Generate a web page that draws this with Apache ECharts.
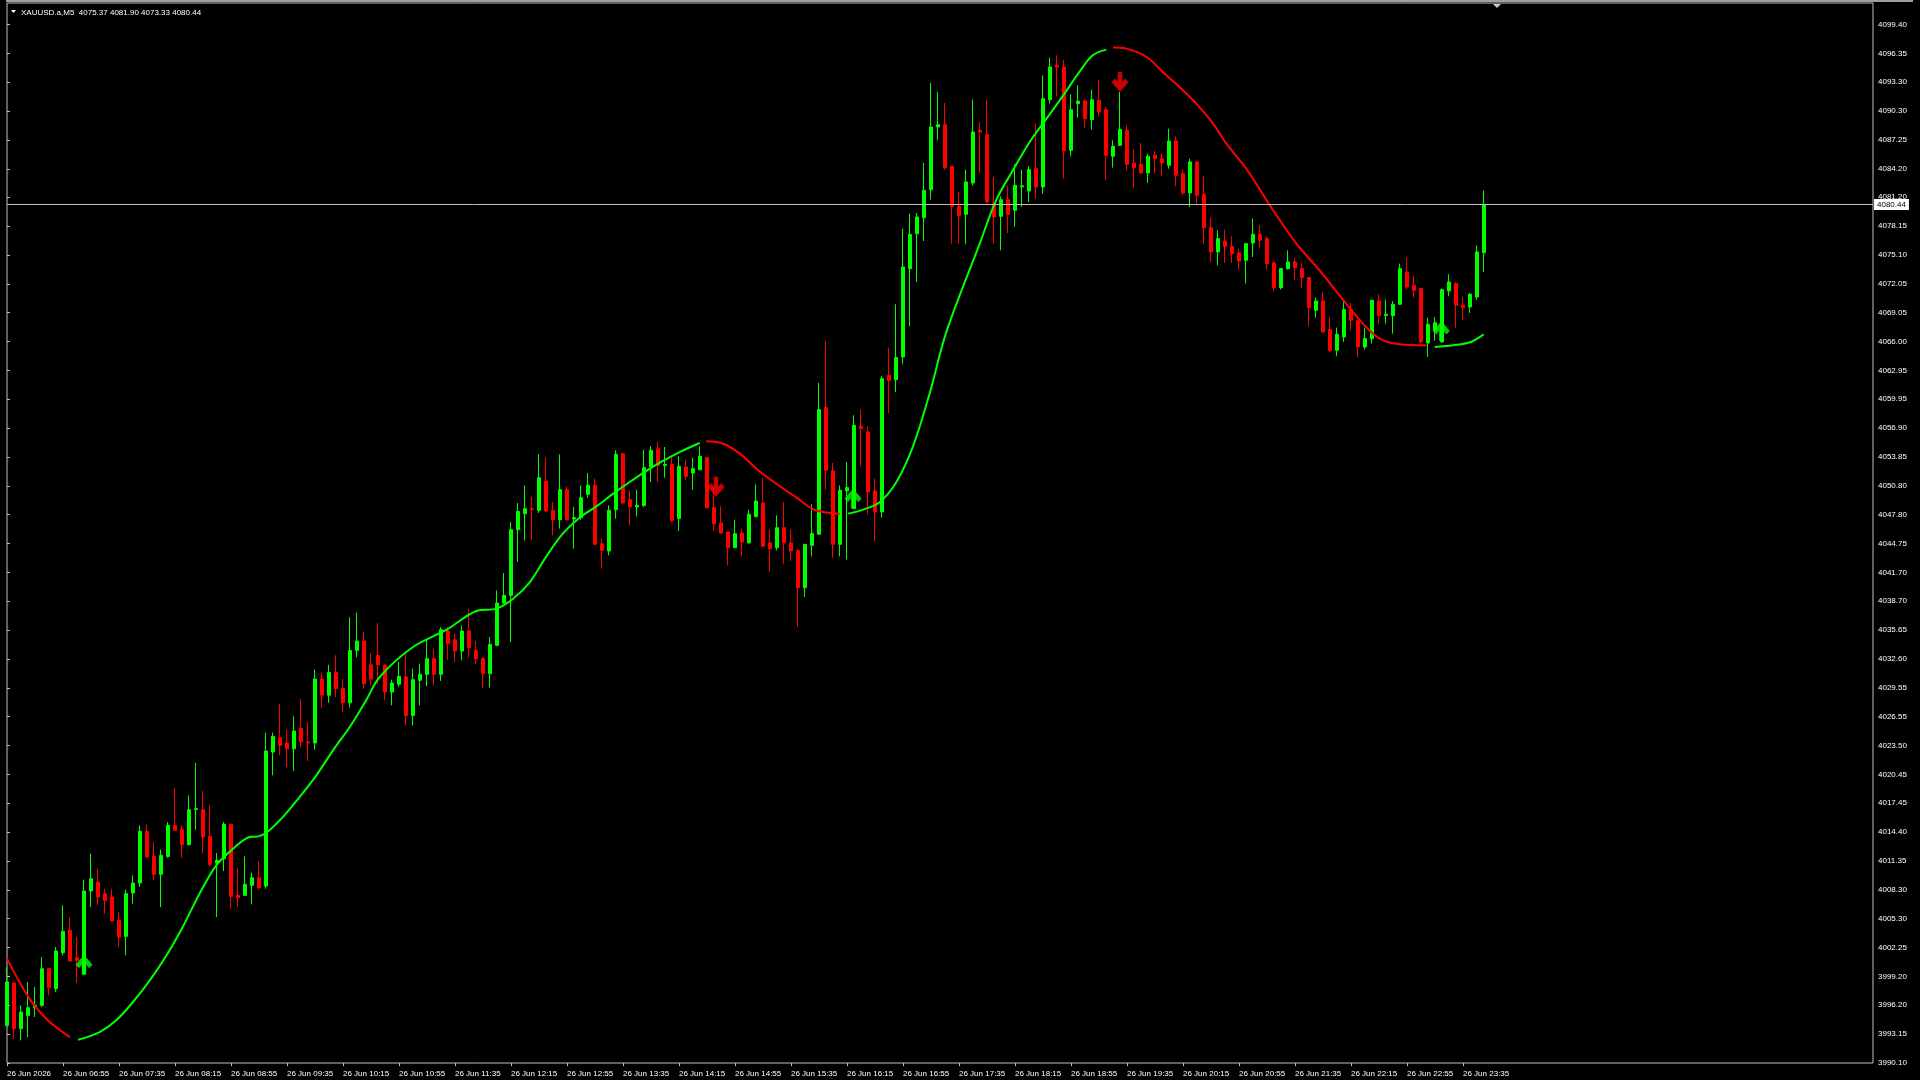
<!DOCTYPE html>
<html><head><meta charset="utf-8">
<script src="https://cdn.jsdelivr.net/npm/echarts@6/dist/echarts.min.js"></script>
<style>html,body{margin:0;padding:0;background:#000;}#c{width:1920px;height:1080px;}</style>
</head><body><div id="c"></div><script>
// ---------------- data ----------------
const symbolName = 'XAUUSD.a,M5';
const headerValues = ['4075.37', '4081.90', '4073.33', '4080.44'];
const lastPrice = 4080.44;
const timeLabels = ['26 Jun 2026','26 Jun 06:55','26 Jun 07:35','26 Jun 08:15','26 Jun 08:55','26 Jun 09:35','26 Jun 10:15','26 Jun 10:55','26 Jun 11:35','26 Jun 12:15','26 Jun 12:55','26 Jun 13:35','26 Jun 14:15','26 Jun 14:55','26 Jun 15:35','26 Jun 16:15','26 Jun 16:55','26 Jun 17:35','26 Jun 18:15','26 Jun 18:55','26 Jun 19:35','26 Jun 20:15','26 Jun 20:55','26 Jun 21:35','26 Jun 22:15','26 Jun 22:55','26 Jun 23:35'];
const barsPerLabel = 8;
const priceTicks = [4099.40,4096.35,4093.30,4090.30,4087.25,4084.20,4081.20,4078.15,4075.10,4072.05,4069.05,4066.00,4062.95,4059.95,4056.90,4053.85,4050.80,4047.80,4044.75,4041.70,4038.70,4035.65,4032.60,4029.55,4026.55,4023.50,4020.45,4017.45,4014.40,4011.35,4008.30,4005.30,4002.25,3999.20,3996.20,3993.15,3990.10];
// [open, high, low, close] per 5-minute bar
const ohlc = [
[3994.06,4000.20,3993.90,3998.62],[3998.52,3998.60,3992.66,3993.71],[3993.71,3996.17,3992.48,3995.46],[3995.11,3998.62,3992.83,3995.92],
[3995.92,3998.10,3994.94,3996.17],[3996.17,4001.25,3995.99,4000.02],[4000.02,4000.10,3997.22,3998.02],[3997.92,4002.30,3997.57,4001.88],
[4001.71,4006.69,4001.43,4003.95],[4004.06,4005.39,4000.83,4000.83],[4001.18,4003.36,3998.52,4000.90],[3999.50,4009.39,3999.50,4008.20],
[4008.20,4012.13,4006.51,4009.49],[4009.14,4010.55,4006.69,4007.57],[4007.92,4008.44,4005.81,4007.21],[4007.57,4008.44,4005.04,4005.04],
[4005.11,4005.99,4002.30,4003.36],[4003.43,4008.34,4001.43,4007.92],[4007.99,4009.85,4006.86,4009.04],[4009.04,4015.11,4008.62,4014.48],
[4014.48,4015.21,4011.77,4011.77],[4011.84,4013.35,4009.32,4009.95],[4009.95,4012.55,4006.51,4011.95],[4011.84,4015.46,4011.70,4015.11],
[4015.11,4019.07,4014.58,4014.58],[4014.65,4015.11,4011.70,4013.07],[4013.07,4018.26,4013.00,4016.76],[4016.76,4021.67,4014.65,4016.86],
[4016.76,4018.72,4012.20,4013.88],[4013.95,4017.21,4010.79,4011.00],[4011.14,4012.20,4005.46,4011.42],[4011.60,4015.46,4010.30,4015.21],
[4015.21,4015.30,4006.34,4007.64],[4007.74,4010.65,4006.51,4007.50],[4007.74,4011.84,4007.70,4008.90],[4008.79,4010.13,4006.79,4009.60],
[4009.60,4011.35,4008.34,4008.55],[4008.72,4024.86,4008.44,4022.93],[4022.82,4024.86,4020.37,4024.47],[4024.33,4027.84,4022.47,4023.52],
[4023.77,4025.17,4021.24,4023.17],[4023.17,4026.58,4020.82,4025.03],[4025.31,4028.40,4023.35,4023.88],[4023.88,4025.98,4021.88,4023.77],
[4023.77,4031.50,4023.07,4030.50],[4030.50,4031.20,4027.50,4028.80],[4028.80,4032.00,4028.00,4031.20],[4031.20,4033.00,4028.60,4029.50],
[4029.50,4030.50,4027.00,4028.00],[4028.00,4037.00,4027.50,4033.50],[4033.50,4037.50,4032.80,4034.50],[4034.50,4035.50,4029.50,4030.00],
[4032.00,4033.20,4029.80,4030.50],[4033.00,4036.40,4030.00,4032.00],
[4031.95,4032.10,4028.26,4029.14],[4029.14,4030.44,4027.74,4030.09],[4029.95,4032.30,4029.67,4030.79],[4030.72,4033.17,4025.63,4026.68],
[4026.68,4031.59,4025.63,4030.44],[4030.37,4032.12,4027.74,4031.00],[4031.00,4034.65,4029.74,4032.65],[4032.65,4033.70,4029.84,4031.00],
[4031.00,4035.98,4030.30,4035.70],[4035.56,4035.98,4032.54,4034.22],[4034.65,4035.28,4032.30,4033.45],[4033.45,4036.15,4032.47,4035.56],
[4035.56,4037.91,4032.75,4033.80],[4033.52,4034.51,4032.12,4032.65],[4032.65,4032.82,4029.60,4031.07],[4031.07,4034.93,4029.60,4034.15],
[4034.05,4039.84,4033.94,4038.50],[4038.50,4041.66,4038.43,4039.31],[4039.31,4047.03,4034.40,4046.22],[4046.22,4049.03,4042.82,4048.15],
[4047.90,4050.89,4045.10,4048.43],[4048.43,4049.66,4045.10,4048.33],[4048.26,4054.15,4047.98,4051.69],[4051.31,4053.80,4048.08,4048.18],
[4048.26,4049.13,4045.62,4047.27],[4047.27,4054.15,4046.33,4050.43],[4050.43,4050.78,4047.20,4047.27],[4047.34,4048.61,4044.22,4047.48],
[4047.48,4050.89,4047.27,4049.59],[4049.94,4052.18,4049.59,4050.89],[4050.89,4051.59,4044.60,4044.68],[4044.75,4045.27,4042.12,4044.05],
[4043.98,4048.78,4043.52,4048.26],[4048.33,4054.57,4047.38,4054.15],[4054.22,4054.30,4049.00,4049.03],[4049.38,4050.36,4046.68,4048.61],
[4048.61,4050.43,4047.62,4048.78],[4048.78,4054.64,4048.61,4052.74],[4052.88,4055.00,4051.24,4054.57],[4054.74,4055.45,4051.24,4052.99],
[4052.99,4054.92,4051.69,4053.10],[4053.10,4054.04,4047.03,4047.20],[4047.38,4053.94,4046.08,4052.88],[4052.81,4053.59,4051.41,4051.83],
[4052.18,4053.80,4050.43,4052.64],[4052.53,4054.99,4052.46,4053.94],[4053.80,4053.90,4048.43,4048.54],[4048.54,4050.64,4046.08,4046.85],
[4046.92,4048.68,4045.80,4045.87],[4045.98,4046.00,4042.47,4044.33],[4044.33,4047.27,4044.30,4045.80],[4045.87,4046.33,4043.41,4044.92],
[4044.82,4048.33,4044.80,4047.83],[4047.62,4050.99,4047.48,4049.24],[4049.03,4051.69,4044.40,4044.47],[4044.82,4046.22,4041.77,4044.22],
[4044.33,4047.73,4044.05,4046.43],[4046.44,4049.14,4042.65,4044.83],[4044.83,4046.23,4042.93,4043.98],[4044.05,4044.10,4035.99,4040.12],
[4040.12,4044.70,4039.14,4044.68],[4044.58,4048.89,4043.42,4045.81],[4045.74,4061.66,4045.70,4058.86],[4059.07,4066.08,4050.44,4052.47],
[4052.40,4053.24,4043.28,4044.68],[4044.68,4050.89,4043.42,4050.37],[4050.30,4053.35,4043.07,4050.65],[4048.44,4058.26,4048.44,4057.21],
[4057.10,4058.86,4052.89,4056.86],[4056.51,4057.10,4047.84,4050.19],[4050.30,4051.59,4045.04,4048.09],[4048.09,4062.36,4047.49,4062.12],
[4062.47,4065.38,4058.50,4061.94],[4062.01,4069.94,4060.71,4064.33],[4064.40,4077.90,4063.63,4073.87],[4073.69,4079.48,4067.62,4077.30],
[4077.37,4079.55,4072.29,4079.13],[4079.06,4084.81,4076.60,4081.93],[4082.00,4093.23,4080.95,4088.60],[4088.60,4092.28,4087.20,4088.84],
[4088.84,4091.12,4084.11,4084.32],[4084.46,4084.50,4076.32,4080.25],[4080.25,4081.76,4076.32,4079.30],[4079.41,4084.11,4076.25,4082.81],
[4082.71,4091.47,4082.46,4088.07],[4088.25,4089.12,4083.76,4088.07],[4087.83,4091.47,4080.53,4080.71],[4080.60,4083.34,4076.32,4079.13],
[4079.20,4081.30,4075.62,4080.95],[4080.95,4082.46,4077.44,4079.41],[4079.83,4084.67,4078.08,4082.46],[4082.30,4084.11,4080.18,4082.40],
[4081.86,4084.46,4080.71,4084.11],[4084.21,4088.95,4081.06,4082.28],[4082.28,4094.03,4081.58,4091.58],[4091.47,4095.89,4091.05,4094.91],
[4095.09,4096.14,4091.82,4094.91],[4094.91,4095.68,4083.16,4086.07],[4086.14,4092.04,4085.51,4090.42],[4091.05,4092.98,4089.58,4091.33],
[4091.33,4091.47,4088.53,4089.47],[4089.37,4092.53,4088.32,4091.47],[4091.40,4093.51,4089.72,4090.18],[4090.42,4090.70,4082.99,4085.62],
[4085.51,4087.20,4084.32,4086.56],[4086.67,4092.28,4086.60,4088.35],[4088.25,4088.77,4084.04,4084.67],[4084.81,4086.21,4082.21,4084.32],
[4084.67,4086.91,4083.70,4083.76],[4083.76,4085.72,4082.71,4085.51],[4085.62,4086.07,4083.69,4085.27],[4085.27,4085.86,4083.51,4084.81],
[4084.56,4088.42,4084.21,4087.12],[4087.12,4087.61,4082.36,4083.51],[4083.69,4084.11,4081.41,4081.65],[4081.65,4085.27,4080.18,4084.92],
[4084.92,4085.00,4080.53,4081.41],[4081.51,4083.41,4076.25,4078.00],[4078.00,4079.06,4074.39,4075.45],[4075.45,4077.72,4074.04,4076.85],
[4076.60,4077.79,4074.29,4076.04],[4076.04,4077.09,4074.29,4075.27],[4075.34,4075.80,4073.59,4074.50],[4074.57,4076.39,4072.12,4076.32],
[4076.39,4078.95,4074.92,4077.31],[4077.31,4078.25,4075.90,4076.68],[4076.85,4077.10,4073.59,4074.22],[4074.29,4074.57,4071.34,4071.69],
[4071.69,4073.75,4071.48,4073.69],[4073.69,4075.62,4073.59,4074.40],[4074.40,4074.85,4072.54,4073.80],[4073.69,4074.29,4071.69,4072.75],
[4072.75,4072.80,4067.63,4069.59],[4069.31,4070.64,4068.54,4070.29],[4070.29,4071.24,4066.92,4067.03],[4067.28,4068.54,4064.92,4065.10],
[4065.10,4067.49,4064.47,4066.78],[4066.50,4070.19,4065.98,4069.38],[4069.38,4070.08,4067.21,4068.26],[4068.26,4068.30,4064.40,4065.45],
[4065.45,4067.49,4065.17,4066.33],[4066.33,4070.40,4065.80,4070.36],[4070.29,4070.99,4067.84,4068.78],[4068.75,4070.43,4067.91,4068.89],
[4068.75,4070.29,4066.85,4069.94],[4069.94,4074.22,4069.90,4073.69],[4073.34,4074.85,4071.48,4071.76],[4071.94,4072.89,4070.64,4071.41],
[4071.59,4071.60,4065.80,4065.98],[4065.87,4068.54,4064.40,4067.84],[4067.20,4068.60,4066.10,4068.00],[4065.98,4071.59,4065.90,4071.48],
[4071.34,4073.10,4070.78,4072.29],[4072.12,4072.29,4067.49,4069.84],[4069.84,4070.71,4068.26,4069.59],[4069.66,4071.13,4069.03,4070.99],
[4070.71,4076.15,4070.43,4075.45],[4075.37,4081.90,4073.33,4080.44]
];
// indicator line, read as [bar position, price]; colour changes with direction
const maDown1 = [[0,4001.08],[1.8,3998.6],[3.7,3996.34],[6.1,3994.41],[8.96,3992.83]];
const maUp1 = [[10.15,3992.55],[13.24,3993.36],[15.6,3994.59],[18.0,3996.52],[20.4,3998.80],[22.8,4001.43],[25.1,4004.41],[27.5,4007.92],[29.9,4010.90],[32.3,4012.65],[34.67,4013.88],[35.9,4013.95],[37.0,4014.30],[39.4,4015.98],[41.8,4018.09],[44.2,4020.37],[46.57,4023.0],[48.96,4025.45],[51.3,4028.26],[53.24,4030.72],[58.0,4033.87],[62.8,4035.70],[67.05,4037.66],[69.9,4037.91],[72.3,4038.96],[74.7,4040.71],[77.05,4043.41],[79.4,4045.80],[81.8,4047.48],[84.2,4048.68],[86.6,4050.01],[88.95,4051.24],[91.3,4052.39],[93.7,4053.45],[96.1,4054.39],[98.95,4055.34]];
const maDown2 = [[99.9,4055.52],[102.3,4055.27],[104.7,4054.22],[107.05,4052.64],[110.0,4051.0],[112.8,4049.6],[115.1,4048.4],[117.5,4047.98],[118.96,4047.91]];
const maUp2 = [[120.15,4047.91],[122.3,4048.33],[124.7,4049.14],[127.06,4051.24],[129.4,4054.93],[131.8,4060.54],[134.2,4067.03],[138.96,4076.32],[141.3,4080.88],[143.7,4084.04],[146.1,4087.02],[148.5,4089.48],[150.9,4091.93],[153.2,4094.39],[155.1,4096.14],[157.05,4096.74]];
const maDown3 = [[158.0,4096.95],[159.9,4096.84],[162.8,4095.96],[165.1,4094.39],[167.5,4092.81],[169.9,4091.05],[172.3,4088.95],[174.2,4086.84],[177.05,4084.2],[180.4,4080.36],[184.2,4076.32],[187.5,4073.52],[191.3,4070.01],[193.7,4067.91],[196.1,4066.33],[198.96,4065.73],[202.8,4065.63]];
const maUp3 = [[203.96,4065.45],[206.6,4065.63],[208.96,4065.94],[210.96,4066.78]];
const arrowsUp = [[11.0,4000.45],[120.87,4049.49],[204.9,4067.13]];
const arrowsDown = [[101.3,4050.75],[159.0,4093.33]];

// ---------------- layout ----------------
const W = 1920, H = 1080;
const GL = 7, GT = 3, GR = 1873, GB = 1063;
const BAR_PX = 7;               // pixel spacing of bars
const PX_PER_UNIT = 9.503;      // pixels per price unit
const Y_MIN = 3990.10;
const Y_MAX = Y_MIN + (GB - GT) / PX_PER_UNIT;
const X_MAX = (GR - GL) / BAR_PX;
const GREEN = '#00ff00', RED = '#ff0000', FRAME = '#c0c0c0';
const FONT = 'Liberation Sans';
const ARROW = 'path://M50,0L100,50L80,68L63,50L63,100L37,100L37,50L20,68L0,50Z';

const chart = echarts.init(document.getElementById('c'), null, {renderer: 'canvas', width: W, height: H});
const candleData = ohlc.map((r, i) => [i, r[0], r[3], r[2], r[1]]);
const labelPos = timeLabels.map((_, k) => k * barsPerLabel);

function maSeries(pts, color) {
  return {type: 'line', data: pts, showSymbol: false, smooth: 0.35, silent: true, z: 3,
    lineStyle: {width: 2, color: color}, itemStyle: {color: color}};
}

chart.setOption({
  animation: false,
  backgroundColor: '#000000',
  grid: {left: GL, top: GT, width: GR - GL, height: GB - GT, show: true, borderColor: FRAME, borderWidth: 1,
    backgroundColor: 'transparent', containLabel: false, outerBoundsMode: 'none'},
  xAxis: {
    type: 'value', min: 0, max: X_MAX, interval: barsPerLabel,
    axisLine: {show: false}, splitLine: {show: false},
    axisTick: {show: true, length: 3, lineStyle: {color: FRAME}, customValues: labelPos},
    axisLabel: {show: true, customValues: labelPos, color: '#ffffff', fontFamily: FONT, fontSize: 8,
      align: 'left', margin: 7, formatter: v => timeLabels[Math.round(v / barsPerLabel)] || ''}
  },
  yAxis: {
    type: 'value', position: 'right', min: Y_MIN, max: Y_MAX, scale: true,
    axisLine: {show: false}, splitLine: {show: false},
    axisTick: {show: true, length: 3, lineStyle: {color: FRAME}, customValues: priceTicks},
    axisLabel: {show: true, customValues: priceTicks, color: '#ffffff', fontFamily: FONT, fontSize: 8,
      margin: 5, formatter: v => v.toFixed(2)}
  },
  series: [
    {type: 'candlestick', data: candleData, dimensions: ['i', 'open', 'close', 'low', 'high'],
     encode: {x: 0, y: [1, 2, 3, 4]}, barWidth: 4, silent: true, z: 2,
     itemStyle: {color: GREEN, color0: RED, borderColor: GREEN, borderColor0: RED, borderWidth: 1},
     markLine: {silent: true, symbol: 'none', animation: false,
       lineStyle: {color: FRAME, type: 'solid', width: 1},
       label: {show: true, position: 'end', distance: 1, formatter: lastPrice.toFixed(2),
         backgroundColor: '#ffffff', color: '#000000', fontFamily: FONT, fontSize: 8, padding: [2, 3, 1, 3]},
       data: [{yAxis: lastPrice}]}},
    maSeries(maDown1, RED), maSeries(maUp1, GREEN),
    maSeries(maDown2, RED), maSeries(maUp2, GREEN),
    maSeries(maDown3, RED), maSeries(maUp3, GREEN),
    {type: 'scatter', data: arrowsUp, symbol: ARROW, symbolSize: [17, 20], silent: true, z: 5, itemStyle: {color: GREEN}},
    {type: 'scatter', data: arrowsDown, symbol: ARROW, symbolSize: [17, 20], symbolRotate: 180, silent: true, z: 5, itemStyle: {color: RED}}
  ],
  graphic: [
    {type: 'rect', shape: {x: 6, y: 0, width: 1907, height: 2}, style: {fill: '#a0a0a0'}, silent: true},
    {type: 'polygon', shape: {points: [[11, 10], [16, 10], [13.5, 13]]}, style: {fill: '#ffffff'}, silent: true},
    {type: 'text', x: 21, y: 12.5, style: {text: symbolName + '  ' + headerValues.join(' '), fill: '#ffffff',
      font: '8px "' + FONT + '"', verticalAlign: 'middle'}, silent: true},
    {type: 'polygon', shape: {points: [[1493, 4], [1501, 4], [1497, 8]]}, style: {fill: '#c8c8c8'}, silent: true}
  ]
});
</script></body></html>
